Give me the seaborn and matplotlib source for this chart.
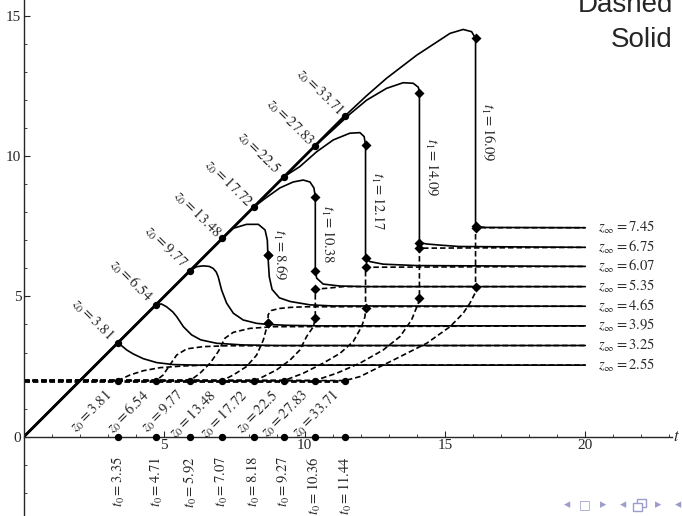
import numpy as np
import pandas as pd
import matplotlib
matplotlib.use("Agg")
import matplotlib.pyplot as plt
from matplotlib.patches import Rectangle
from matplotlib.ticker import MultipleLocator
import seaborn as sns

# values
z0 = [3.81, 6.54, 9.77, 13.48, 17.72, 22.5, 27.83, 33.71]
t0 = [3.35, 4.71, 5.92, 7.07, 8.18, 9.27, 10.36, 11.44]
z_inf = [2.55, 3.25, 3.95, 4.65, 5.35, 6.07, 6.75, 7.45]
t1 = [8.69, 10.38, 12.17, 14.09, 16.09]
solid_jump_top = [6.48, 8.55, 10.4, 12.27, 14.2]
solid_jump_bot = [6.48, 5.92, 6.36, 6.92, 7.5]
dashed_jump_bot = [4.05, 4.23, 4.58, 4.93, 5.33]
dashed_jump_top = [4.05, 5.26, 6.04, 6.72, 7.45]
z_start_dashed = 2.0
t_end = 20

# solid curves (start on z = t)
solid_t = [
    [0, 3.35, 3.66, 3.89, 4.25, 4.73, 5.32, 6.2, 20],
    [0, 4.71, 4.9, 5.08, 5.3, 5.44, 5.68, 5.97, 6.3, 6.86, 7.8, 9.0, 20],
    [0, 5.92, 6.15, 6.39, 6.6, 6.74, 6.85, 6.92, 7.04, 7.22, 7.46, 7.81, 8.29, 8.7, 9.36, 10.5, 20],
    [0, 7.07, 7.46, 7.93, 8.35, 8.59, 8.67, 8.69, 8.74, 8.84, 9.1, 9.48, 10.19, 11.0, 20],
    [0, 8.18, 8.6, 9.12, 9.59, 9.95, 10.19, 10.33, 10.38, 10.38, 10.43, 10.66, 11.26, 12.2, 20],
    [0, 9.27, 9.83, 10.43, 11.02, 11.61, 11.97, 12.12, 12.17, 12.17, 12.33, 12.8, 13.99, 20],
    [0, 10.36, 11.02, 11.61, 12.21, 12.92, 13.51, 13.87, 14.05, 14.09, 14.09, 14.35, 14.82, 15.5, 20],
    [0, 11.44, 12.2, 12.92, 13.99, 15.18, 15.65, 15.95, 16.09, 16.09, 16.45, 20],
]
solid_z = [
    [0, 3.35, 3.09, 2.95, 2.78, 2.64, 2.57, 2.55, 2.55],
    [0, 4.71, 4.73, 4.63, 4.45, 4.28, 3.92, 3.63, 3.45, 3.33, 3.27, 3.25, 3.25],
    [0, 5.92, 6.06, 6.09, 6.07, 6.0, 5.87, 5.7, 5.23, 4.76, 4.4, 4.16, 4.04, 4.0, 3.97, 3.95, 3.95],
    [0, 7.07, 7.43, 7.57, 7.57, 7.37, 7.01, 6.48, 5.7, 5.25, 4.95, 4.82, 4.7, 4.66, 4.65],
    [0, 8.18, 8.5, 8.87, 9.08, 9.15, 9.08, 8.87, 8.55, 5.92, 5.65, 5.44, 5.37, 5.35, 5.35],
    [0, 9.27, 9.63, 10.16, 10.58, 10.82, 10.84, 10.7, 10.4, 6.36, 6.24, 6.15, 6.1, 6.07],
    [0, 10.36, 10.95, 11.5, 12.0, 12.42, 12.62, 12.6, 12.46, 12.27, 6.92, 6.87, 6.83, 6.78, 6.75],
    [0, 11.44, 12.15, 12.78, 13.6, 14.38, 14.52, 14.44, 14.2, 7.5, 7.46, 7.45],
]

# dashed curves (start on z = 2)
dashed_t = [
    [0, 3.35, 3.78, 4.25, 4.85, 5.68, 6.51, 20],
    [0, 4.71, 4.96, 5.2, 5.44, 5.8, 6.39, 7.22, 20],
    [0, 5.92, 6.27, 6.63, 6.92, 7.16, 7.46, 8.05, 8.88, 20],
    [0, 7.07, 7.46, 7.93, 8.29, 8.53, 8.69, 8.7, 8.82, 9.1, 9.5, 10.0, 20],
    [0, 8.18, 8.41, 9.0, 9.48, 9.83, 10.07, 10.31, 10.38, 10.38, 10.78, 11.38, 20],
    [0, 9.27, 9.95, 10.66, 11.26, 11.73, 12.03, 12.15, 12.17, 12.17, 20],
    [0, 10.36, 11.14, 11.97, 12.8, 13.4, 13.81, 14.05, 14.09, 14.09, 20],
    [0, 11.44, 11.97, 13.16, 14.35, 15.18, 15.65, 15.89, 16.07, 16.09, 16.09, 20],
]
dashed_z = [
    [2, 2, 2.2, 2.35, 2.46, 2.52, 2.55, 2.55],
    [2, 2, 2.2, 2.56, 2.91, 3.13, 3.21, 3.24, 3.25],
    [2, 2, 2.26, 2.62, 3.03, 3.51, 3.72, 3.86, 3.92, 3.95],
    [2, 2, 2.2, 2.5, 2.91, 3.45, 4.05, 4.35, 4.5, 4.57, 4.61, 4.63, 4.65],
    [2, 2, 2.08, 2.38, 2.73, 3.09, 3.57, 3.92, 4.23, 5.26, 5.29, 5.35, 5.35],
    [2, 2, 2.26, 2.62, 2.97, 3.39, 3.92, 4.28, 4.58, 6.04, 6.07],
    [2, 2, 2.26, 2.62, 3.09, 3.57, 4.16, 4.76, 4.93, 6.72, 6.75],
    [2, 2, 2.14, 2.73, 3.33, 3.92, 4.4, 4.76, 5.11, 5.33, 7.45, 7.45],
]


def to_long(ts, zs):
    rows = []
    for i, (tt, zz) in enumerate(zip(ts, zs)):
        for a, b in zip(tt, zz):
            rows.append({"curve": i, "t": a, "z": b})
    return pd.DataFrame(rows)


solid_df = to_long(solid_t, solid_z)
dashed_df = to_long(dashed_t, dashed_z)

sns.set_style("ticks")
plt.rcParams["font.family"] = ["Liberation Serif", "DejaVu Serif"]
plt.rcParams["mathtext.fontset"] = "stix"

fig = plt.figure(figsize=(6.82, 5.16), dpi=100)
ax = fig.add_axes([24 / 682, 0, 648 / 682, 1])

dash = (0, (3.3, 1.8))
sns.lineplot(data=solid_df, x="t", y="z", units="curve", estimator=None, sort=False,
             color="black", lw=1.2, ax=ax, legend=False)
sns.lineplot(data=dashed_df, x="t", y="z", units="curve", estimator=None, sort=False,
             color="black", lw=1.2, linestyle=dash, ax=ax, legend=False)

# the common diagonal and the common dashed start line are drawn heavier
ax.plot([0, t0[-1]], [0, t0[-1]], color="black", lw=2.0, solid_capstyle="butt")
ax.plot([0, t0[-1]], [z_start_dashed] * 2, color="black", lw=2.0, linestyle=(0, (2.0, 1.0)))

# dots at the t0 points
sns.scatterplot(x=t0, y=t0, color="black", s=28, marker="o", ax=ax, zorder=5, linewidth=0)
sns.scatterplot(x=t0, y=[z_start_dashed] * len(t0), color="black", s=28, marker="o", ax=ax,
                zorder=5, linewidth=0)
sns.scatterplot(x=t0, y=[0] * len(t0), color="black", s=28, marker="o", ax=ax, zorder=5,
                linewidth=0, clip_on=False)

# diamonds at the jumps
dx = t1 * 4
dy = solid_jump_top + solid_jump_bot + dashed_jump_bot + dashed_jump_top
sns.scatterplot(x=dx, y=dy, color="black", s=26, marker="D", ax=ax, zorder=5, linewidth=0)

fs = 10.5
for t, v in zip(t0, z0):
    ax.text(t - 0.9, t + 0.85, rf"$z_0 = {v}$", rotation=-45, ha="center", va="center",
            fontsize=fs, rotation_mode="anchor")
    ax.text(t - 0.3, 1.54, rf"$z_0 = {v}$", rotation=45, ha="right", va="center",
            fontsize=fs, rotation_mode="anchor")
for t in t0:
    ax.text(t, -0.7, rf"$t_0 = {t}$", rotation=90, ha="right", va="center",
            fontsize=fs, rotation_mode="anchor")
for t, top, bot in zip(t1, solid_jump_top, solid_jump_bot):
    ax.text(t + 0.42, (top + bot) / 2, rf"$t_1 = {t}$", rotation=-90, ha="center",
            va="center", fontsize=fs, rotation_mode="anchor")
for v in z_inf:
    ax.text(t_end + 0.45, v, rf"$z_\infty = {v}$", ha="left", va="center", fontsize=fs)

ax.text(23.13, 0, r"$t$", ha="left", va="center", fontsize=12, clip_on=False)

ax.set_xlim(0, 23.09)
ax.set_ylim(-2.83, 15.57)
ax.spines["bottom"].set_position(("data", 0))
ax.spines["top"].set_visible(False)
ax.spines["right"].set_visible(False)
for s in ("left", "bottom"):
    ax.spines[s].set_linewidth(1.0)
ax.set_xticks([5, 10, 15, 20])
ax.set_yticks([0, 5, 10, 15])
ax.xaxis.set_minor_locator(MultipleLocator(1))
ax.yaxis.set_minor_locator(MultipleLocator(1))
ax.tick_params(which="major", direction="in", length=4.5, width=0.8, labelsize=11, pad=2)
ax.tick_params(which="minor", direction="in", length=2.5, width=0.6)
ax.set_xlabel("")
ax.set_ylabel("")

fig.text(673 / 682, 1 - 12 / 516, "Dashed", ha="right", va="baseline", fontsize=20,
         family="Liberation Sans")
fig.text(673 / 682, 1 - 47 / 516, "Solid", ha="right", va="baseline", fontsize=20,
         family="Liberation Sans")

# beamer navigation symbols
nav_color = "#9c9ccc"
nav_x = [567, 585, 603, 623, 658, 678]
nav_g = ["\u25c2", "\u25a1", "\u25b8", "\u25c2", "\u25b8", "\u25c2"]
for x, g in zip(nav_x, nav_g):
    fig.text(x / 682, 1 - 505 / 516, g, ha="center", va="center", fontsize=9,
             color=nav_color, family="DejaVu Sans")
# the two stacked frames glyph has no installed font, so draw it as two squares
for x, y in [(637, 507), (633, 511)]:
    fig.patches.append(Rectangle((x / 682, 1 - y / 516), 9 / 682, 8 / 516,
                                 transform=fig.transFigure, facecolor="white",
                                 edgecolor=nav_color, lw=1.0))

plt.savefig("out.png", dpi=100)
